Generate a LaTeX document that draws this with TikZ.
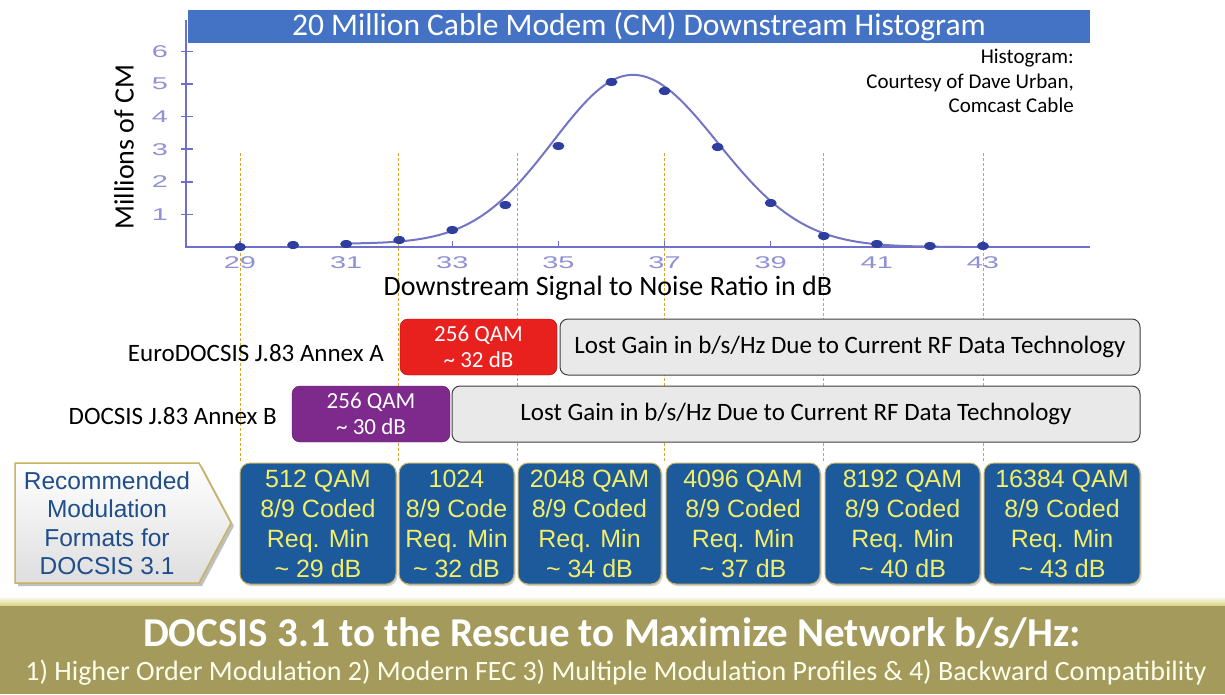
\documentclass[tikz,border=0pt]{standalone}
\usepackage{fontspec}
\setmainfont{Carlito}
\newfontfamily\arialf{Liberation Sans}
\usetikzlibrary{shadows}
\definecolor{titleblue}{HTML}{4473C5}
\definecolor{axiscol}{HTML}{6E6ECC}
\definecolor{tickcol}{HTML}{9090D6}
\definecolor{curvecol}{HTML}{7474C4}
\definecolor{dotcol}{HTML}{2E3E9E}
\definecolor{golddash}{HTML}{D8A62A}
\definecolor{redbox}{HTML}{E8201E}
\definecolor{purplebox}{HTML}{7D2A8C}
\definecolor{greybox}{HTML}{E9E9E9}
\definecolor{bluebox}{HTML}{1D5A9B}
\definecolor{yellowtxt}{HTML}{F2EE6A}
\definecolor{goldborder}{HTML}{C9B260}
\definecolor{arrowtxt}{HTML}{1F4E8C}
\definecolor{banner}{HTML}{A39A5C}
\begin{document}
\begin{tikzpicture}[x=1pt,y=-1pt,
  fs/.style={font=\fontsize{#1}{#1}\selectfont},
  ticklabel/.style={text=tickcol,font=\arialf\fontsize{17}{17}\selectfont,xscale=1.7,inner sep=0},
  dot/.style={fill=dotcol,draw=none},
  vdash/.style={golddash,dashed,line width=1pt,dash pattern=on 3pt off 2pt},
  rowlabel/.style={anchor=east,inner sep=0,font=\fontsize{25}{25}\selectfont},
  qambox/.style={rounded corners=8pt,minimum height=56pt,inner sep=0,align=center,text=white,font=\fontsize{23}{24}\selectfont},
  lostbox/.style={rounded corners=8pt,minimum height=56pt,inner sep=0,fill=greybox,draw=black!75,line width=1pt,font=\fontsize{25}{25}\selectfont},
  modbox/.style={rounded corners=10pt,minimum height=121pt,inner sep=0,fill=bluebox,draw=goldborder,line width=1pt,
    text=yellowtxt,align=center,font=\arialf\fontsize{25}{30}\selectfont,drop shadow={opacity=0.35,shadow xshift=1.5pt,shadow yshift=-2pt}},
]
\useasboundingbox (0,0) rectangle (1225,694);
\fill[white] (0,0) rectangle (1225,694);

% title bar
\node[fill=titleblue,minimum width=902pt,minimum height=33pt,inner sep=0,text=white,fs=31.5] (title) at (639,26.5) {20 Million Cable Modem (CM) Downstream Histogram};

% vertical dashed guide lines
\foreach \xx in {240,398,517,664,823,983}{
  \draw[vdash] (\xx,153) -- (\xx,463);
}

% axes
\coordinate (orig) at (186,247);
\coordinate (ytop) at (186,20);
\coordinate (xend) at (1090,247);
\draw[axiscol,line width=2pt] (ytop) -- (orig) -- (xend);
\foreach \v in {1,...,6}{
  \draw[axiscol,line width=1.5pt] (181,{247-32.6*\v}) -- (193,{247-32.6*\v});
  \node[ticklabel] (yl\v) at (160,{247-32.6*\v}) {\v};
}
\foreach \d in {29,31,...,43}{
  \draw[axiscol,line width=1.2pt] ({240+(\d-29)*53.07},241) -- ({240+(\d-29)*53.07},247);
  \node[ticklabel] (xl\d) at ({240+(\d-29)*53.07},263) {\d};
}

% curve
\draw[curvecol,line width=2pt,line join=round]
  plot[domain=31:36.4,samples=70,smooth] ({240+(\x-29)*53.07},{247-32.6*(0.1+5.18*exp(-((\x-36.4)*(\x-36.4))/4.5))})
  -- plot[domain=36.4:42.6,samples=70,smooth] ({240+(\x-29)*53.07},{247-32.6*(5.28*exp(-((\x-36.4)*(\x-36.4))/5.12))});

% data dots
\foreach \d/\y in {29/247,30/245,31/244,32/240,33/230,34/205,35/146,36/82,37/91,38/147,39/203,40/236,41/244,42/246,43/246}{
  \fill[dot] ({240+(\d-29)*53.07},\y) ellipse (6pt and 4pt);
}

% axis titles
\node[rotate=90,fs=28,inner sep=0] (ytitle) at (124,147) {Millions of CM};
\node[fs=28,inner sep=0] (xtitle) at (608,288) {Downstream Signal to Noise Ratio in dB};
\node[anchor=north east,align=right,inner sep=0,font=\fontsize{21}{24.5}\selectfont] (credit) at (1074,49) {Histogram:\\Courtesy of Dave Urban,\\Comcast Cable};

% legacy rows
\node[rowlabel] (labA) at (384,353) {EuroDOCSIS J.83 Annex A};
\node[qambox,fill=redbox,draw=red!70!black,minimum width=157pt] (qamA) at (478.5,347) {256 QAM\\[2pt]\textasciitilde\ 32 dB};
\node[lostbox,minimum width=580pt] (lostA) at (850,347) {Lost Gain in b/s/Hz Due to Current RF Data Technology};

\node[rowlabel] (labB) at (277,416) {DOCSIS J.83 Annex B};
\node[qambox,fill=purplebox,draw=purplebox!70!black,minimum width=158pt] (qamB) at (371,414) {256 QAM\\[2pt]\textasciitilde\ 30 dB};
\node[lostbox,minimum width=688pt] (lostB) at (796,414) {Lost Gain in b/s/Hz Due to Current RF Data Technology};

% recommended arrow box
\fill[black,opacity=0.25] (18,466) -- (202,466) -- (234,526) -- (202,586) -- (18,586) -- cycle;
\shade[top color=white,bottom color=black!13,draw=goldborder,line width=1.5pt]
  (15,463) -- (199,463) -- (231,523) -- (199,583) -- (15,583) -- cycle;
\node[align=center,text=arrowtxt,font=\arialf\fontsize{24.5}{28.5}\selectfont,inner sep=0] (rec) at (107,523) {Recommended\\Modulation\\Formats for\\DOCSIS 3.1};

% modulation boxes
\node[modbox,minimum width=156pt] (m1) at (318,523.5) {512 QAM\\8/9 Coded\\Req. Min\\\textasciitilde\ 29 dB};
\node[modbox,minimum width=115pt] (m2) at (456.5,523.5) {1024\\8/9 Code\\Req. Min\\\textasciitilde\ 32 dB};
\node[modbox,minimum width=143pt] (m3) at (589.5,523.5) {2048 QAM\\8/9 Coded\\Req. Min\\\textasciitilde\ 34 dB};
\node[modbox,minimum width=154pt] (m4) at (743,523.5) {4096 QAM\\8/9 Coded\\Req. Min\\\textasciitilde\ 37 dB};
\node[modbox,minimum width=155pt] (m5) at (902.5,523.5) {8192 QAM\\8/9 Coded\\Req. Min\\\textasciitilde\ 40 dB};
\node[modbox,minimum width=156pt] (m6) at (1062,523.5) {16384 QAM\\8/9 Coded\\Req. Min\\\textasciitilde\ 43 dB};

% bottom banner
\fill[banner] (0,603) rectangle (1225,694);
\shade[top color=white,bottom color=yellow!35!banner!60!white] (0,596) rectangle (1225,605);
\node[text=white,inner sep=0,font=\bfseries\fontsize{41}{41}\selectfont] (head) at (612,633) {DOCSIS 3.1 to the Rescue to Maximize Network b/s/Hz:};
\node[text=white!92!yellow,inner sep=0,font=\fontsize{28}{28}\selectfont] (sub) at (616,673) {1) Higher Order Modulation 2) Modern FEC 3) Multiple Modulation Profiles \& 4) Backward Compatibility};
\end{tikzpicture}
\end{document}
